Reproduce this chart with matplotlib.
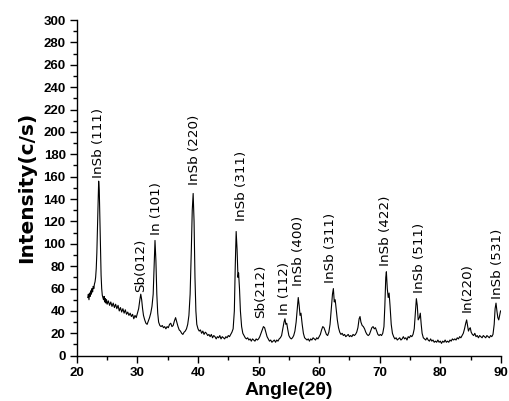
import matplotlib
matplotlib.use('Agg')
import matplotlib.pyplot as plt
from matplotlib.ticker import MultipleLocator

plt.rcParams['font.family'] = ['Liberation Sans', 'DejaVu Sans']

# XRD pattern (2theta in degrees, counts per second)
angle = [
    21.8, 21.9, 22.0, 22.1, 22.2, 22.3, 22.4, 22.5, 22.6, 22.7, 22.8, 22.9,
    23.0, 23.1, 23.2, 23.3, 23.4, 23.5, 23.6, 23.7, 23.8, 23.9, 24.0, 24.1,
    24.2, 24.3, 24.4, 24.5, 24.6, 24.7, 24.8, 24.9, 25.0, 25.2, 25.4, 25.6,
    25.8, 26.0, 26.2, 26.4, 26.6, 26.8, 27.0, 27.2, 27.4, 27.6, 27.8, 28.0,
    28.2, 28.4, 28.6, 28.8, 29.0, 29.2, 29.4, 29.6, 29.8, 30.0, 30.2, 30.4,
    30.55, 30.7, 30.85, 31.0, 31.2, 31.4, 31.6, 31.8, 32.0, 32.2, 32.4, 32.6,
    32.75, 32.9, 33.05, 33.2, 33.35, 33.5, 33.7, 33.9, 34.1, 34.3, 34.5, 34.7,
    34.9, 35.1, 35.3, 35.5, 35.7, 35.9, 36.1, 36.3, 36.5, 36.7, 36.9, 37.1,
    37.3, 37.5, 37.7, 37.9, 38.1, 38.3, 38.5, 38.7, 38.9, 39.05, 39.2, 39.35,
    39.5, 39.65, 39.8, 40.0, 40.2, 40.4, 40.6, 40.8, 41.0, 41.2, 41.4, 41.6,
    41.8, 42.0, 42.2, 42.4, 42.6, 42.8, 43.0, 43.2, 43.4, 43.6, 43.8, 44.0,
    44.2, 44.4, 44.6, 44.8, 45.0, 45.2, 45.4, 45.6, 45.8, 46.0, 46.15, 46.3,
    46.45, 46.6, 46.7, 46.85, 47.0, 47.2, 47.4, 47.6, 47.8, 48.0, 48.2, 48.4,
    48.6, 48.8, 49.0, 49.2, 49.4, 49.6, 49.8, 50.0, 50.2, 50.4, 50.6, 50.8,
    51.0, 51.2, 51.4, 51.6, 51.8, 52.0, 52.2, 52.4, 52.6, 52.8, 53.0, 53.2,
    53.4, 53.6, 53.8, 54.0, 54.2, 54.35, 54.5, 54.65, 54.8, 55.0, 55.2, 55.4,
    55.6, 55.8, 56.0, 56.2, 56.4, 56.55, 56.7, 56.85, 57.0, 57.2, 57.4, 57.6,
    57.8, 58.0, 58.2, 58.4, 58.6, 58.8, 59.0, 59.2, 59.4, 59.6, 59.8, 60.0,
    60.2, 60.4, 60.6, 60.8, 61.0, 61.2, 61.4, 61.6, 61.8, 62.0, 62.2, 62.35,
    62.5, 62.65, 62.8, 63.0, 63.2, 63.4, 63.6, 63.8, 64.0, 64.2, 64.4, 64.6,
    64.8, 65.0, 65.2, 65.4, 65.6, 65.8, 66.0, 66.2, 66.4, 66.6, 66.75, 66.9,
    67.1, 67.3, 67.5, 67.7, 67.9, 68.1, 68.3, 68.5, 68.7, 68.9, 69.1, 69.3,
    69.5, 69.7, 69.9, 70.1, 70.3, 70.5, 70.7, 70.85, 71.0, 71.1, 71.25, 71.4,
    71.55, 71.7, 71.9, 72.1, 72.3, 72.5, 72.7, 72.9, 73.1, 73.3, 73.5, 73.7,
    73.9, 74.1, 74.3, 74.5, 74.7, 74.9, 75.1, 75.3, 75.5, 75.7, 75.9, 76.05,
    76.2, 76.35, 76.55, 76.7, 76.85, 77.0, 77.2, 77.4, 77.6, 77.8, 78.0, 78.2,
    78.4, 78.6, 78.8, 79.0, 79.2, 79.4, 79.6, 79.8, 80.0, 80.2, 80.4, 80.6,
    80.8, 81.0, 81.2, 81.4, 81.6, 81.8, 82.0, 82.2, 82.4, 82.6, 82.8, 83.0,
    83.2, 83.4, 83.6, 83.8, 84.0, 84.2, 84.35, 84.5, 84.65, 84.8, 84.95, 85.1,
    85.3, 85.5, 85.7, 85.9, 86.1, 86.3, 86.5, 86.7, 86.9, 87.1, 87.3, 87.5,
    87.7, 87.9, 88.1, 88.3, 88.5, 88.7, 88.9, 89.05, 89.2, 89.35, 89.5, 89.65,
    89.8, 89.95,
]
intensity = [
    52, 55, 50, 56, 53, 58, 55, 60, 57, 62, 60, 64,
    66, 70, 78, 92, 112, 135, 156, 148, 122, 95, 72, 60,
    54, 52, 50, 53, 48, 51, 47, 50, 46, 49, 45, 48,
    44, 47, 43, 46, 42, 45, 40, 43, 39, 42, 38, 41,
    37, 39, 36, 38, 35, 37, 33, 36, 34, 38, 42, 50,
    55, 50, 42, 36, 32, 29, 28, 31, 34, 38, 44, 55,
    80, 103, 85, 55, 38, 30, 27, 26, 27, 25, 26, 24,
    26, 25, 28, 29, 26, 27, 31, 34, 30, 26, 23, 22,
    20, 19, 21, 22, 24, 28, 36, 55, 95, 130, 145, 120,
    70, 40, 28, 24, 22, 23, 20, 22, 19, 21, 20, 18,
    19, 17, 19, 16, 18, 17, 15, 17, 16, 18, 15, 17,
    16, 15, 17, 16, 18, 17, 19, 21, 24, 40, 80, 111,
    95, 70, 74, 60, 40, 26, 20, 18, 16, 15, 16, 14,
    15, 13, 15, 14, 13, 15, 14, 15, 17, 20, 23, 26,
    25, 21, 17, 15, 13, 14, 12, 13, 14, 12, 14, 13,
    15, 16, 18, 24, 30, 33, 28, 29, 24, 18, 16, 15,
    16, 18, 22, 30, 42, 52, 45, 36, 38, 28, 20, 16,
    15, 14, 15, 13, 15, 14, 16, 15, 14, 16, 15, 17,
    19, 23, 26, 25, 22, 19, 18, 21, 28, 42, 55, 60,
    48, 50, 42, 32, 25, 21, 19, 20, 18, 19, 17, 18,
    19, 17, 18, 17, 19, 18, 19, 21, 25, 33, 35, 30,
    27, 26, 24, 21, 19, 18, 19, 22, 25, 26, 24, 25,
    22, 19, 18, 19, 18, 20, 26, 45, 70, 75, 60, 52,
    56, 45, 28, 20, 17, 15, 16, 14, 15, 16, 14, 15,
    17, 15, 16, 14, 17, 16, 18, 17, 19, 24, 40, 51,
    45, 32, 34, 38, 28, 20, 16, 15, 14, 16, 14, 13,
    15, 13, 14, 12, 13, 12, 14, 12, 13, 11, 13, 12,
    14, 12, 13, 12, 14, 13, 15, 14, 15, 14, 16, 15,
    17, 16, 18, 20, 24, 29, 32, 27, 22, 24, 25, 21,
    19, 18, 20, 17, 18, 16, 18, 17, 16, 18, 17, 16,
    18, 17, 16, 18, 17, 19, 28, 42, 47, 40, 34, 32,
    36, 40,
]

# peak labels: text, x centre, y of the label's lower end
peak_names = ['InSb (111)', 'Sb(012)', 'In (101)', 'InSb (220)', 'InSb (311)',
              'Sb(212)', 'In (112)', 'InSb (400)', 'InSb (311)', 'InSb (422)',
              'InSb (511)', 'In(220)', 'InSb (531)']
peak_x = [23.6, 30.6, 33.2, 39.5, 47.1, 50.4, 54.2, 56.65, 61.8, 71.0, 76.6, 84.5, 89.5]
peak_y = [159, 57, 108, 153, 120, 34, 36, 62, 65, 80, 56, 39, 51]

fig = plt.figure(figsize=(5.09, 4.01), dpi=100)
ax = fig.add_axes([0.151, 0.113, 0.833, 0.837])

ax.plot(angle, intensity, color='black', lw=0.8)

for name, x, y in zip(peak_names, peak_x, peak_y):
    ax.text(x, y, name, rotation=90, ha='center', va='bottom',
            fontsize=9.7, family='DejaVu Sans')

ax.set_xlim(20, 90)
ax.set_ylim(0, 300)
ax.xaxis.set_major_locator(MultipleLocator(10))
ax.xaxis.set_minor_locator(MultipleLocator(5))
ax.yaxis.set_major_locator(MultipleLocator(20))
ax.yaxis.set_minor_locator(MultipleLocator(10))
ax.tick_params(which='major', direction='out', length=5, width=1, labelsize=9.5, pad=3)
ax.tick_params(which='minor', direction='out', length=3, width=1)
for lab in ax.get_xticklabels() + ax.get_yticklabels():
    lab.set_fontweight('bold')

ax.spines['top'].set_visible(False)
ax.spines['right'].set_visible(False)
ax.spines['left'].set_linewidth(1)
ax.spines['bottom'].set_linewidth(1)

ax.set_xlabel('Angle(2θ)', fontsize=14, fontweight='bold', labelpad=2)
ax.set_ylabel('Intensity(c/s)', fontsize=14.5, fontweight='bold',
              family='DejaVu Sans', labelpad=5)

fig.savefig('out.png', dpi=100)
